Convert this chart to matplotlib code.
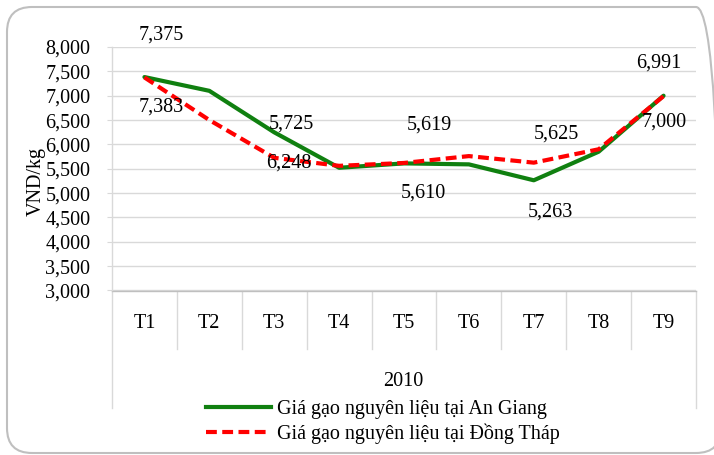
import matplotlib
matplotlib.use('Agg')
import matplotlib.pyplot as plt
from matplotlib.lines import Line2D
from matplotlib.patches import FancyBboxPatch
from matplotlib.ticker import FuncFormatter, MultipleLocator

plt.rcParams['font.family'] = ['Liberation Serif', 'DejaVu Serif']

# --- Data ---
months = ['T1', 'T2', 'T3', 'T4', 'T5', 'T6', 'T7', 'T8', 'T9']
year_label = '2010'
an_giang = [7383, 7100, 6248, 5520, 5610, 5590, 5263, 5850, 7000]
dong_thap = [7375, 6500, 5725, 5560, 5619, 5760, 5625, 5900, 6991]
labelled = [0, 2, 4, 6, 8]  # months that carry value labels
name_ag = 'Giá gạo nguyên liệu tại An Giang'
name_dt = 'Giá gạo nguyên liệu tại Đồng Tháp'

# --- Style / layout ---
W, H, DPI = 714, 455, 100
GREEN = '#108010'
RED = '#ff0000'
GRID = '#d9d9d9'
FS = 14.5
# label nudges in pixels (dx, dy; dy down positive)
dt_offsets = [(17, -42), (17, -34), (25, -38), (23, -29), (-5, -33)]
ag_offsets = [(17, 30), (15, 31), (19, 30), (17, 32), (1, 26)]

fig = plt.figure(figsize=(W / DPI, H / DPI), dpi=DPI)
ax_l, ax_r, ax_t, ax_b = 112, 696, 47, 290.5
ax = fig.add_axes([ax_l / W, 1 - ax_b / H, (ax_r - ax_l) / W, (ax_b - ax_t) / H])

x = list(range(len(months)))
ax.plot(x, an_giang, color=GREEN, lw=3.0, solid_capstyle='round', zorder=3)
ax.plot(x, dong_thap, color=RED, lw=3.0, dashes=(2.6, 1.3), dash_capstyle='butt', zorder=4)

px2pt = 72 / DPI
for k, i in enumerate(labelled):
    dx, dy = dt_offsets[k]
    ax.annotate(f'{dong_thap[i]:,}', (i, dong_thap[i]), xytext=(dx * px2pt, -dy * px2pt),
                textcoords='offset points', ha='center', va='center', fontsize=FS, zorder=5)
    dx, dy = ag_offsets[k]
    ax.annotate(f'{an_giang[i]:,}', (i, an_giang[i]), xytext=(dx * px2pt, -dy * px2pt),
                textcoords='offset points', ha='center', va='center', fontsize=FS, zorder=5)

ax.set_xlim(-0.5, len(months) - 0.5)
ax.set_ylim(3000, 8000)
ax.yaxis.set_major_locator(MultipleLocator(500))
ax.yaxis.set_major_formatter(FuncFormatter(lambda v, p: f'{int(v):,}'))
ax.grid(axis='y', color=GRID, lw=1.0)
ax.set_axisbelow(True)
ax.tick_params(axis='y', length=3.6, color=GRID, labelsize=FS, pad=12)
ax.set_xticks([])
for s in ['top', 'right', 'bottom']:
    ax.spines[s].set_visible(False)
ax.spines['left'].set_color(GRID)
ax.spines['left'].set_linewidth(1.0)

# multi-level category axis
h = ax_b - ax_t
trans = ax.get_xaxis_transform()
for i, m in enumerate(months):
    ax.text(i, (ax_b - 323) / h, m, transform=trans, ha='center', va='center', fontsize=FS)
for i in range(len(months) - 1):
    ax.add_line(Line2D([i + 0.5, i + 0.5], [0, (ax_b - 349) / h], transform=trans,
                       color=GRID, lw=1.0, clip_on=False))
for xe in [-0.5, len(months) - 0.5]:
    ax.add_line(Line2D([xe, xe], [0, (ax_b - 408) / h], transform=trans,
                       color=GRID, lw=1.0, clip_on=False))
ax.add_line(Line2D([-0.5, len(months) - 0.5], [0, 0], transform=trans,
                   color='#bfbfbf', lw=1.0, clip_on=False))
fig.text(403 / W, 1 - 382 / H, year_label, ha='center', va='center', fontsize=FS)

fig.text(36 / W, 1 - 182 / H, 'VND/kg', rotation=90, ha='center', va='center', fontsize=FS)

handles = [Line2D([], [], color=GREEN, lw=3.0),
           Line2D([], [], color=RED, lw=3.0, dashes=(2.6, 1.3))]
fig.legend(handles, [name_ag, name_dt], loc='upper left',
           bbox_to_anchor=(206 / W, 1 - 400 / H), frameon=False, fontsize=FS,
           handlelength=3.25, handletextpad=0.3, borderpad=0, borderaxespad=0,
           labelspacing=0.22)

# chart frame
frame = FancyBboxPatch((7, 2), 714, 446, boxstyle='round,pad=0,rounding_size=25',
                       transform=None, fill=False, ec='#bfbfbf', lw=1.5)
fig.patches.append(frame)

fig.savefig('out.png', dpi=DPI)
